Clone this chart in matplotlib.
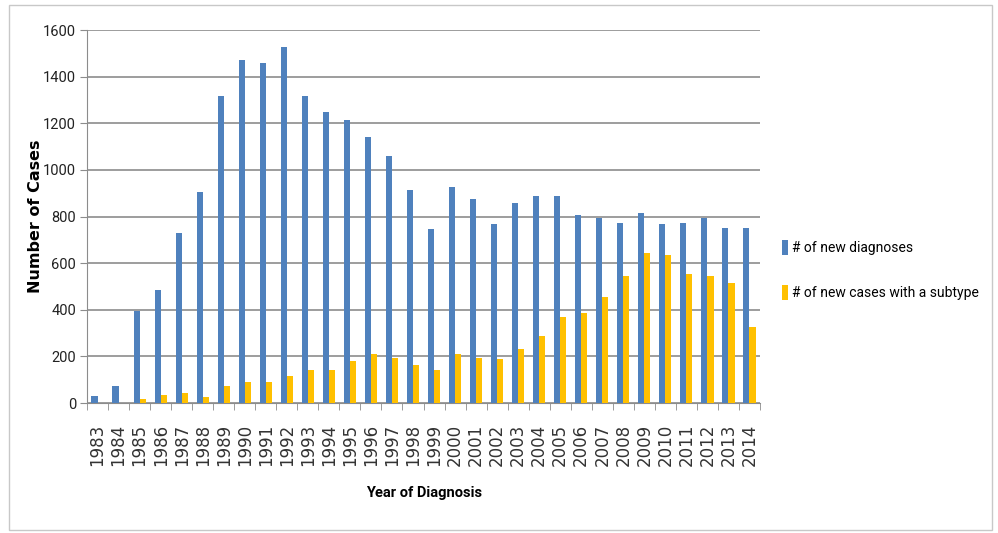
import matplotlib
matplotlib.use('Agg')
import matplotlib.pyplot as plt
import numpy as np
from matplotlib.patches import Rectangle

years = [str(y) for y in range(1983, 2015)]
new_diagnoses = [28, 74, 393, 486, 731, 906, 1319, 1473, 1457, 1526, 1319, 1250, 1213, 1143, 1059,
                 913, 746, 927, 874, 769, 859, 890, 890, 806, 793, 774, 813, 769, 774, 793, 751, 751]
with_subtype = [0, 0, 19, 34, 41, 27, 73, 89, 89, 117, 141, 141, 179, 210, 194,
                164, 141, 210, 194, 187, 233, 286, 369, 386, 454, 546, 644, 637, 554, 546, 516, 324]
y_ticks = [0, 200, 400, 600, 800, 1000, 1200, 1400, 1600]

narrow = ['Roboto', 'DejaVu Sans']
grid_col = '#8C8C8C'

fig = plt.figure(figsize=(9.98, 5.33), dpi=100)
ax = fig.add_axes([0.0872, 0.2439, 0.6743, 0.6998])

x = np.arange(len(years))
w = 0.29
ax.bar(x - w / 2, new_diagnoses, width=w, color='#4F81BD', label='# of new diagnoses', zorder=3)
ax.bar(x + w / 2, with_subtype, width=w, color='#FFC000', label='# of new cases with a subtype', zorder=3)

ax.set_xlim(-0.5, len(years) - 0.5)
ax.set_ylim(0, 1600)
ax.set_yticks(y_ticks)
ax.set_yticklabels([str(v) for v in y_ticks], family=narrow, fontsize=10.5, color='#222222')
ax.yaxis.grid(True, color=grid_col, linewidth=1.2, zorder=0)

ax.set_xticks(x)
ax.set_xticklabels(years, rotation=90, fontsize=12, color='#333333')
ax.set_xticks(np.arange(len(years) + 1) - 0.5, minor=True)
ax.tick_params(axis='x', which='major', length=0, pad=15)
ax.tick_params(axis='x', which='minor', length=5, color=grid_col)
ax.tick_params(axis='y', length=5, color=grid_col, pad=3)

for side in ['top', 'right']:
    ax.spines[side].set_visible(False)
for side in ['left', 'bottom']:
    ax.spines[side].set_color(grid_col)

ax.set_ylabel('Number of Cases', fontsize=11.5, fontweight='bold')
ax.yaxis.set_label_coords(-0.066, 0.5)
fig.text(0.4245, 0.075, 'Year of Diagnosis', family=narrow, fontsize=10.5, fontweight='bold',
         ha='center', va='center')

fig.legend(loc='center left', bbox_to_anchor=(0.771, 0.4934), frameon=False,
           prop={'family': narrow, 'size': 10}, handlelength=0.4, handleheight=1.3,
           handletextpad=0.35, labelspacing=2.15)

fig.patches.append(Rectangle((0.009, 0.006), 0.985, 0.985, transform=fig.transFigure,
                             fill=False, edgecolor='#C8C8C8', linewidth=1))

fig.savefig('out.png', dpi=100)
